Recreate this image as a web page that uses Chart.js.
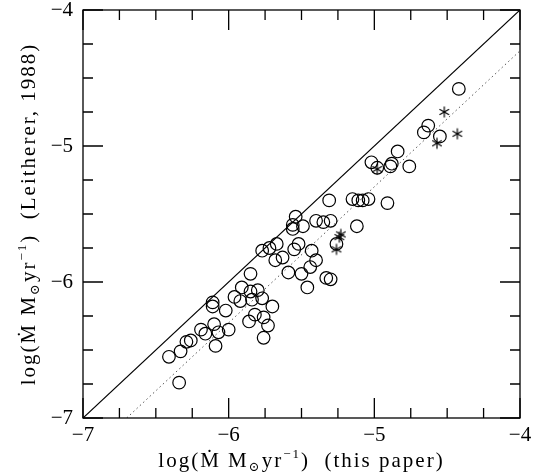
<!DOCTYPE html>
<html>
<head>
<meta charset="utf-8">
<script src="https://cdn.jsdelivr.net/npm/chart.js@4"></script>
<style>
  body { margin: 0; background: #fff; }
</style>
</head>
<body>
<canvas id="massLoss" width="538" height="476"></canvas>
<script>
// log Mdot: this paper (x) against Leitherer 1988 (y)
const circleX = [-4.42, -4.63, -4.66, -4.55, -4.84, -5.02, -4.98, -4.88, -4.89, -4.76,
  -5.31, -5.15, -5.11, -5.08, -5.04, -4.91, -5.54, -5.56, -5.56, -5.49,
  -5.40, -5.35, -5.30, -5.12, -5.77, -5.72, -5.67, -5.68, -5.63, -5.59,
  -5.55, -5.52, -5.50, -5.46, -5.44, -5.43, -5.40, -5.33, -5.30, -5.26,
  -5.85, -5.91, -5.85, -5.80, -5.96, -5.92, -5.84, -5.77, -5.70, -6.11,
  -6.11, -6.02, -5.82, -5.86, -5.76, -5.73, -5.76, -6.10, -6.19, -6.16,
  -6.07, -6.00, -6.09, -6.29, -6.26, -6.33, -6.41, -6.34];
const circleY = [-4.58, -4.85, -4.90, -4.93, -5.04, -5.12, -5.16, -5.13, -5.15, -5.15,
  -5.40, -5.39, -5.40, -5.40, -5.39, -5.42, -5.52, -5.58, -5.61, -5.59,
  -5.55, -5.56, -5.55, -5.59, -5.77, -5.75, -5.72, -5.84, -5.82, -5.93,
  -5.76, -5.72, -5.94, -6.04, -5.89, -5.77, -5.84, -5.97, -5.98, -5.72,
  -5.94, -6.04, -6.07, -6.06, -6.11, -6.14, -6.13, -6.12, -6.18, -6.15,
  -6.18, -6.21, -6.24, -6.29, -6.26, -6.32, -6.41, -6.31, -6.35, -6.38,
  -6.37, -6.35, -6.47, -6.44, -6.43, -6.51, -6.55, -6.74];
const starX = [-4.52, -4.43, -4.57, -4.98, -5.23, -5.24, -5.26];
const starY = [-4.75, -4.91, -4.98, -5.17, -5.65, -5.67, -5.76];

// one-to-one line, and the same line 0.3 dex lower
const equalX = [-7, -4];
const equalY = [-7, -4];
const shiftX = [-6.7, -4];
const shiftY = [-7, -4.3];

const majorTicks = [-7, -6, -5, -4];
const minorStep = 0.25;

const SERIF = '"Liberation Serif", "DejaVu Serif", serif';

// axis titles as [text, font size, baseline shift]
const xTitle = [['log(\u1E40 M', 21, 0], ['\u2299', 13, 4], ['yr', 21, 0], ['\u22121', 13, -9], [')  (this paper)', 21, 0]];
const yTitle = [['log(\u1E40 M', 21, 0], ['\u2299', 13, 4], ['yr', 21, 0], ['\u22121', 13, -9], [')  (Leitherer, 1988)', 21, 0]];

function pairs(xs, ys) {
  return xs.map((x, i) => ({ x: x, y: ys[i] }));
}

// six-armed asterisk for the star symbols
function makeAsterisk(r) {
  const c = document.createElement('canvas');
  const size = Math.ceil(r * 2 + 3);
  c.width = size;
  c.height = size;
  const g = c.getContext('2d');
  g.strokeStyle = '#000';
  g.lineWidth = 1.2;
  g.translate(size / 2, size / 2);
  for (let k = 0; k < 3; k++) {
    const a = Math.PI / 2 + k * Math.PI / 3;
    g.beginPath();
    g.moveTo(Math.cos(a) * r, Math.sin(a) * r);
    g.lineTo(-Math.cos(a) * r, -Math.sin(a) * r);
    g.stroke();
  }
  return c;
}

function drawRich(ctx, segs, cx, baseY) {
  ctx.letterSpacing = '2px';
  let total = 0;
  segs.forEach(s => {
    ctx.font = s[1] + 'px ' + SERIF;
    total += ctx.measureText(s[0]).width;
  });
  let xx = cx - total / 2;
  ctx.textAlign = 'left';
  ctx.textBaseline = 'alphabetic';
  segs.forEach(s => {
    ctx.font = s[1] + 'px ' + SERIF;
    ctx.fillText(s[0], xx, baseY + s[2]);
    xx += ctx.measureText(s[0]).width;
  });
}

// box round the plot, ticks pointing inward on all four sides, axis titles
const frameTicks = {
  id: 'frameTicks',
  afterDraw(chart) {
    const { ctx, chartArea: a, scales: { x, y } } = chart;
    ctx.save();
    ctx.strokeStyle = '#000';
    ctx.lineWidth = 1.3;
    ctx.strokeRect(a.left, a.top, a.right - a.left, a.bottom - a.top);
    ctx.beginPath();
    const lo = majorTicks[0], hi = majorTicks[majorTicks.length - 1];
    for (let v = lo; v <= hi + 1e-9; v += minorStep) {
      const len = majorTicks.some(m => Math.abs(m - v) < 1e-6) ? 20 : 10;
      const px = x.getPixelForValue(v);
      const py = y.getPixelForValue(v);
      ctx.moveTo(px, a.bottom); ctx.lineTo(px, a.bottom - len);
      ctx.moveTo(px, a.top); ctx.lineTo(px, a.top + len);
      ctx.moveTo(a.left, py); ctx.lineTo(a.left + len, py);
      ctx.moveTo(a.right, py); ctx.lineTo(a.right - len, py);
    }
    ctx.stroke();

    ctx.fillStyle = '#000';
    drawRich(ctx, xTitle, (a.left + a.right) / 2, 467);
    ctx.translate(35, (a.top + a.bottom) / 2);
    ctx.rotate(-Math.PI / 2);
    drawRich(ctx, yTitle, 0, 0);
    ctx.restore();
  }
};

const tickFont = { family: SERIF, size: 21 };
const minusLabel = v => (v < 0 ? '\u2212' + Math.abs(v) : String(v));

new Chart(document.getElementById('massLoss'), {
  type: 'scatter',
  data: {
    datasets: [
      {
        data: pairs(circleX, circleY),
        pointStyle: 'circle',
        pointRadius: 6.3,
        borderColor: '#000',
        backgroundColor: 'rgba(0,0,0,0)',
        borderWidth: 1.2
      },
      {
        data: pairs(starX, starY),
        pointStyle: makeAsterisk(5.5),
        pointRadius: 6
      },
      {
        type: 'line',
        data: pairs(equalX, equalY),
        borderColor: '#000',
        borderWidth: 1.2,
        pointRadius: 0
      },
      {
        type: 'line',
        data: pairs(shiftX, shiftY),
        borderColor: '#555',
        borderWidth: 1,
        borderDash: [1.5, 3],
        pointRadius: 0
      }
    ]
  },
  options: {
    responsive: false,
    animation: false,
    layout: { padding: { top: 10, right: 18, left: 0, bottom: 0 } },
    plugins: { legend: { display: false }, tooltip: { enabled: false } },
    scales: {
      x: {
        type: 'linear',
        min: -7,
        max: -4,
        grid: { display: false, drawTicks: false },
        border: { display: false },
        afterFit: s => { s.height = 58; s.paddingLeft = 0; s.paddingRight = 0; },
        ticks: { stepSize: 1, padding: 5, color: '#000', font: tickFont, callback: minusLabel, maxRotation: 0 }
      },
      y: {
        type: 'linear',
        min: -7,
        max: -4,
        grid: { display: false, drawTicks: false },
        border: { display: false },
        afterFit: s => { s.width = 83; s.paddingTop = 0; s.paddingBottom = 0; },
        ticks: { stepSize: 1, padding: 10, color: '#000', font: tickFont, callback: minusLabel }
      }
    }
  },
  plugins: [frameTicks]
});
</script>
</body>
</html>
